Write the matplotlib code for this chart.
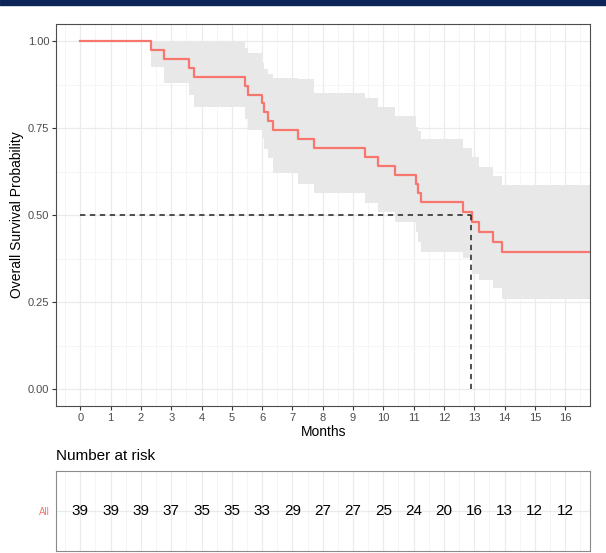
import matplotlib
matplotlib.use('Agg')
import matplotlib.pyplot as plt
from matplotlib.patches import Rectangle
import numpy as np

# ---- data ----
times = [0, 2.32, 2.77, 3.58, 3.74, 5.45, 5.53, 6.0, 6.07, 6.2, 6.37, 7.17, 7.72,
         9.39, 9.81, 10.4, 11.08, 11.13, 11.23, 12.62, 12.91, 13.16, 13.63, 13.92]
surv = [1.0, 0.974, 0.949, 0.923, 0.897, 0.872, 0.846, 0.821, 0.795, 0.769, 0.744, 0.718, 0.692,
        0.667, 0.641, 0.615, 0.590, 0.564, 0.538, 0.508, 0.479, 0.450, 0.422, 0.393]
upper = [1.0, 1.0, 1.0, 1.0, 1.0, 0.98, 0.965, 0.937, 0.92, 0.905, 0.893, 0.89, 0.851,
         0.836, 0.81, 0.784, 0.754, 0.74, 0.717, 0.692, 0.666, 0.639, 0.613, 0.586]
lower = [1.0, 0.926, 0.878, 0.845, 0.81, 0.775, 0.745, 0.72, 0.69, 0.665, 0.62, 0.59, 0.563,
         0.534, 0.51, 0.481, 0.45, 0.423, 0.395, 0.376, 0.33, 0.313, 0.29, 0.26]
last_time = 16.82
median_time = 12.88
median_surv = 0.5

risk_months = list(range(17))
n_risk = [39, 39, 39, 37, 35, 35, 33, 29, 27, 27, 25, 24, 20, 16, 13, 12, 12]
strata_label = "All"

plt.rcParams['font.family'] = ['Liberation Sans', 'DejaVu Sans']

W, H = 606, 553
fig = plt.figure(figsize=(W / 100, H / 100), dpi=100)
fig.patches.append(Rectangle((0, 1 - 4.5 / H), 1, 4.5 / H, transform=fig.transFigure,
                             color='#0b2559', zorder=10))

xlim = (-0.79, 16.82)
ylim = (-0.05, 1.05)
red = '#F8766D'
grid_major = '#ebebeb'
grid_minor = '#f4f4f4'
border = '#4d4d4d'

ax = fig.add_axes([56.4 / W, 1 - 406.4 / H, (590 - 56.4) / W, (406.4 - 23.6) / H])

xs = times + [last_time]
ax.fill_between(xs, lower + [lower[-1]], upper + [upper[-1]], step='post',
                color='#e8e8e8', linewidth=0, zorder=2)
ax.step(xs, surv + [surv[-1]], where='post', color=red, lw=1.6, zorder=4)
ax.plot([0, median_time], [median_surv, median_surv], ls=(0, (3.5, 3)), color='#222222', lw=1.1, zorder=5)
ax.plot([median_time, median_time], [median_surv, 0], ls=(0, (3.5, 3)), color='#222222', lw=1.1, zorder=5)

ax.set_xticks(risk_months)
ax.set_xticks(np.arange(-0.5, 17, 1.0), minor=True)
ax.set_yticks([0, 0.25, 0.5, 0.75, 1.0])
ax.set_yticklabels(['0.00', '0.25', '0.50', '0.75', '1.00'])
ax.set_yticks([0.125, 0.375, 0.625, 0.875], minor=True)
ax.set_xlim(*xlim)
ax.set_ylim(*ylim)
ax.grid(True, which='major', color=grid_major, lw=0.9, zorder=0)
ax.grid(True, which='minor', color=grid_minor, lw=0.6, zorder=0)
ax.set_axisbelow(True)
ax.tick_params(which='major', length=3, width=0.8, color='#333333', labelsize=8,
               labelcolor='#4d4d4d', pad=2)
ax.tick_params(which='minor', length=0)
for s in ax.spines.values():
    s.set_color(border)
    s.set_linewidth(0.8)
ax.set_xlabel('Months', fontsize=10, labelpad=1)
ax.set_ylabel('Overall Survival Probability', fontsize=10, labelpad=3)

# ---- risk table ----
rt = fig.add_axes([56.4 / W, 1 - 550.7 / H, (590 - 56.4) / W, (550.7 - 471) / H])
for m, n in zip(risk_months, n_risk):
    rt.text(m, 1.0, str(n), ha='center', va='center', fontsize=11, color='black', zorder=3)
rt.set_xticks(risk_months)
rt.set_xticks(np.arange(-0.5, 17, 1.0), minor=True)
rt.set_yticks([1.0])
rt.set_yticklabels([strata_label])
rt.set_xlim(*xlim)
rt.set_ylim(0.4, 1.6)
rt.grid(True, which='major', color=grid_major, lw=0.9, zorder=0)
rt.grid(True, which='minor', axis='x', color=grid_minor, lw=0.6, zorder=0)
rt.set_axisbelow(True)
rt.tick_params(axis='x', which='both', length=0, labelbottom=False)
rt.tick_params(axis='y', length=0, labelsize=7, labelcolor=red, pad=5)
for s in rt.spines.values():
    s.set_color('#8a8a8a')
    s.set_linewidth(0.8)
fig.text(56.4 / W, 1 - 456 / H, 'Number at risk', fontsize=11, ha='left', va='center')

fig.savefig('out.png', dpi=100)
